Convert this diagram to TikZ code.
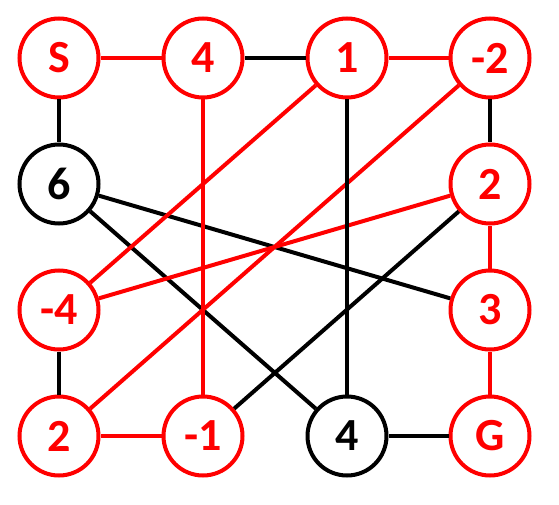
\documentclass[tikz,border=0pt]{standalone}
\usepackage{fontspec}
\setmainfont{Carlito}
\tikzset{
  vtx/.style={circle, draw, line width=4pt, minimum size=79pt, inner sep=0pt, fill=white, font=\fontsize{46}{46}\selectfont\bfseries},
  rv/.style={vtx, draw=red, text=red},
  bv/.style={vtx, draw=black, text=black},
  re/.style={draw=red, line width=4pt},
  be/.style={draw=black, line width=4pt}
}
\begin{document}
\begin{tikzpicture}[x=1pt,y=-1pt]
\useasboundingbox (0,0) rectangle (559,505);
\node[rv] (S) at (59,58) {S};
\node[rv] (n4) at (203,58) {4};
\node[rv] (n1) at (347,58) {1};
\node[rv] (m2) at (490,58) {-2};
\node[bv] (n6) at (59,184) {6};
\node[rv] (r2) at (490,184) {2};
\node[rv] (m4) at (59,310) {-4};
\node[rv] (r3) at (490,310) {3};
\node[rv] (bl2) at (59,436) {2};
\node[rv] (m1) at (203,436) {-1};
\node[bv] (b4) at (347,436) {4};
\node[rv] (G) at (490,436) {G};
\draw[re] (S) -- (n4);
\draw[be] (n4) -- (n1);
\draw[re] (n1) -- (m2);
\draw[be] (S) -- (n6);
\draw[be] (m2) -- (r2);
\draw[be] (n6) -- (r3);
\draw[be] (n6) -- (b4);
\draw[re] (n1) -- (m4);
\draw[re] (m2) -- (bl2);
\draw[re] (r2) -- (m4);
\draw[be] (r2) -- (m1);
\draw[re] (n4) -- (m1);
\draw[be] (n1) -- (b4);
\draw[re] (r2) -- (r3);
\draw[re] (r3) -- (G);
\draw[be] (m4) -- (bl2);
\draw[re] (bl2) -- (m1);
\draw[be] (b4) -- (G);
\end{tikzpicture}
\end{document}
